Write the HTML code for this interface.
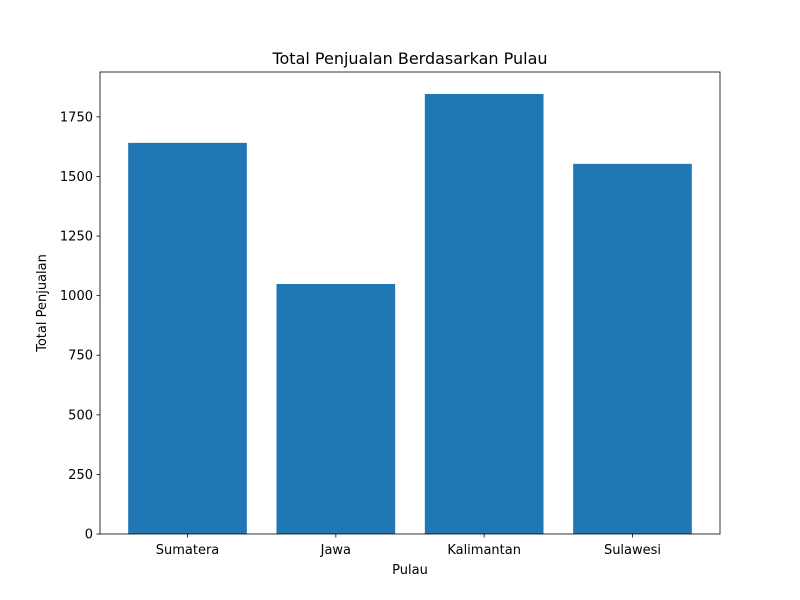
<!DOCTYPE html>
<html><head><meta charset="utf-8"><style>
html,body{margin:0;padding:0;background:#fff;}
svg{display:block;font-family:"DejaVu Sans","Liberation Sans",sans-serif;}
</style></head><body>
<svg id="chart" width="800" height="600"></svg>
<script>
const categories = ["Sumatera","Jawa","Kalimantan","Sulawesi"];
const values = [1641, 1049, 1846, 1553];
const yTicks = [0,250,500,750,1000,1250,1500,1750];

const svg = document.getElementById('chart');
const NS = 'http://www.w3.org/2000/svg';
const L=100,R=720,T=72,B=534;
const yMax = Math.max(...values)*1.05;
const xMin=-0.59, xMax=categories.length-1+0.59;
const sx = v => L + (v-xMin)/(xMax-xMin)*(R-L);
const sy = v => B - v/yMax*(B-T);
function mk(tag, attrs, text){
  const e=document.createElementNS(NS,tag);
  for(const k in attrs) e.setAttribute(k,attrs[k]);
  if(text!==undefined) e.textContent=text;
  svg.appendChild(e); return e;
}
values.forEach((v,i)=>{
  const r=mk('rect',{x:sx(i-0.4),y:sy(v),width:sx(i+0.4)-sx(i-0.4),height:B-sy(v),fill:'#1f77b4'});
  
  
  const t=mk('line',{x1:sx(i),x2:sx(i),y1:B,y2:B+3.5,stroke:'#000','stroke-width':0.8});
  
  
  const lb=mk('text',{x:sx(i),y:B+20,'text-anchor':'middle','font-size':13},categories[i]);
  
  
});
yTicks.forEach(v=>{
  const t=mk('line',{x1:L-3.5,x2:L,y1:sy(v),y2:sy(v),stroke:'#000','stroke-width':0.8});
  
  
  const lb=mk('text',{x:L-7,y:sy(v)+4.5,'text-anchor':'end','font-size':13},String(v));
  
  
});
const f=mk('rect',{x:L,y:T,width:R-L,height:B-T,fill:'none',stroke:'#000','stroke-width':0.8});


const tt=mk('text',{x:(L+R)/2,y:T-8,'text-anchor':'middle','font-size':16},'Total Penjualan Berdasarkan Pulau');


const xt=mk('text',{x:(L+R)/2,y:574,'text-anchor':'middle','font-size':13},'Pulau');


const yt=mk('text',{x:0,y:0,'text-anchor':'middle','font-size':13,transform:'translate(46,'+((T+B)/2)+') rotate(-90)'},'Total Penjualan');


</script>
</body></html>
